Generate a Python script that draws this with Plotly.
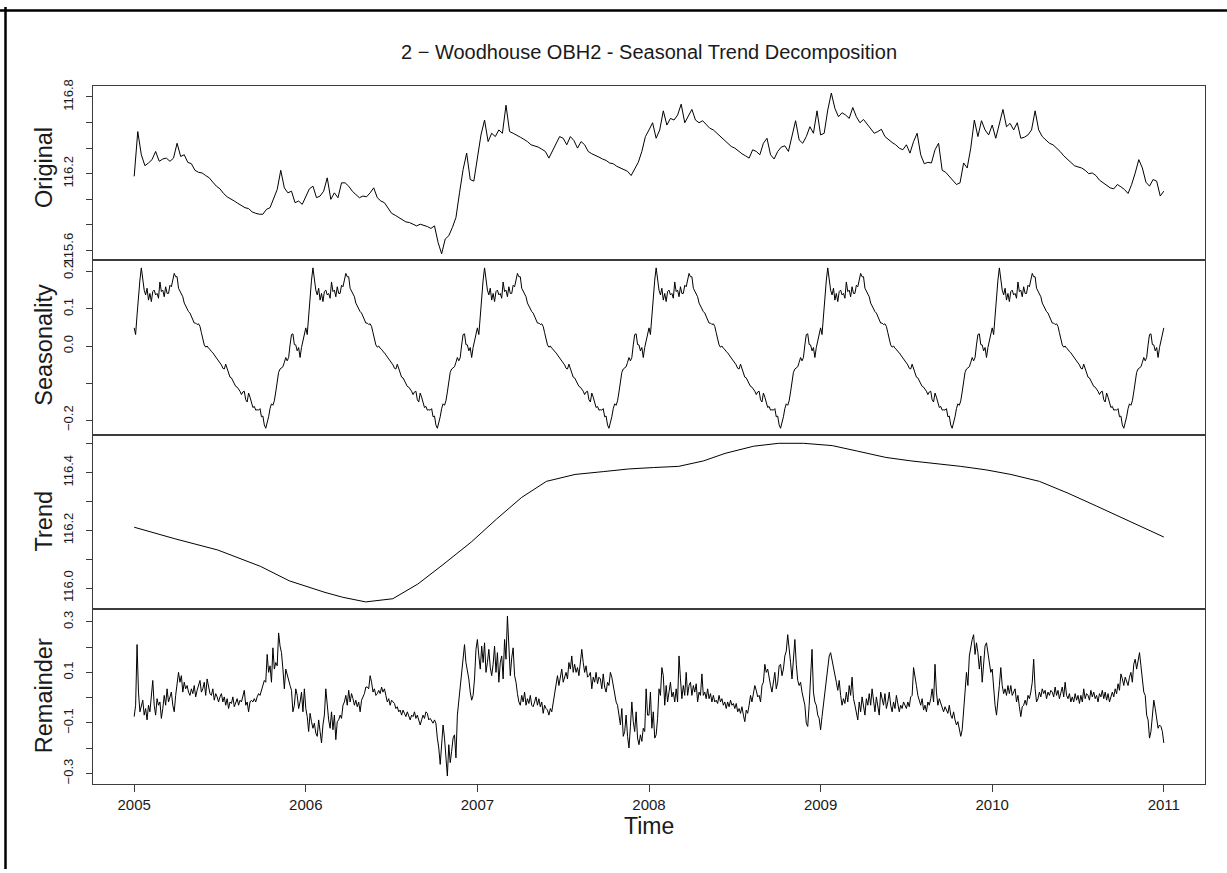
import numpy as np
import plotly.graph_objects as go

# ---------------------------------------------------------------------------
# Woodhouse OBH2 water level (m), STL decomposition 2005-2011
# ---------------------------------------------------------------------------
START_YEAR, END_YEAR = 2005.0, 2011.0

# observed level, regular sampling over the record
original = [
    116.180, 116.529, 116.348, 116.263, 116.284, 116.310, 116.374, 116.297, 116.315, 116.322,
    116.297, 116.322, 116.438, 116.335, 116.348, 116.289, 116.278, 116.227, 116.211, 116.206,
    116.186, 116.168, 116.134, 116.103, 116.082, 116.046, 116.020, 116.000, 115.987, 115.969,
    115.953, 115.935, 115.928, 115.902, 115.891, 115.884, 115.884, 115.922, 115.935, 116.000,
    116.077, 116.227, 116.090, 116.051, 116.064, 115.974, 115.987, 115.961, 116.026, 116.082,
    116.103, 116.013, 116.026, 116.064, 116.168, 116.000, 116.051, 116.013, 116.129, 116.129,
    116.103, 116.064, 116.038, 116.013, 116.026, 116.020, 116.051, 116.090, 116.013, 115.987,
    115.974, 115.928, 115.891, 115.876, 115.858, 115.845, 115.824, 115.819, 115.806, 115.793,
    115.806, 115.798, 115.788, 115.773, 115.793, 115.664, 115.575, 115.690, 115.716, 115.780,
    115.858, 116.051, 116.232, 116.361, 116.155, 116.142, 116.335, 116.503, 116.619, 116.451,
    116.516, 116.490, 116.542, 116.516, 116.735, 116.529, 116.516, 116.503, 116.485, 116.469,
    116.451, 116.426, 116.418, 116.408, 116.392, 116.374, 116.322, 116.374, 116.426, 116.490,
    116.477, 116.426, 116.490, 116.459, 116.400, 116.451, 116.426, 116.374, 116.356, 116.340,
    116.330, 116.315, 116.304, 116.284, 116.278, 116.258, 116.245, 116.227, 116.219, 116.186,
    116.232, 116.289, 116.374, 116.490, 116.542, 116.598, 116.477, 116.542, 116.691, 116.580,
    116.632, 116.619, 116.658, 116.743, 116.598, 116.645, 116.702, 116.619, 116.598, 116.614,
    116.580, 116.555, 116.542, 116.516, 116.490, 116.459, 116.433, 116.413, 116.400, 116.374,
    116.356, 116.340, 116.322, 116.387, 116.374, 116.348, 116.438, 116.477, 116.348, 116.315,
    116.374, 116.408, 116.418, 116.374, 116.490, 116.614, 116.464, 116.438, 116.490, 116.567,
    116.516, 116.691, 116.503, 116.516, 116.697, 116.830, 116.710, 116.645, 116.676, 116.658,
    116.632, 116.717, 116.645, 116.598, 116.624, 116.588, 116.555, 116.516, 116.529, 116.547,
    116.490, 116.464, 116.444, 116.426, 116.400, 116.387, 116.426, 116.361, 116.451, 116.516,
    116.348, 116.278, 116.289, 116.284, 116.387, 116.438, 116.227, 116.211, 116.180, 116.155,
    116.116, 116.129, 116.284, 116.245, 116.400, 116.619, 116.490, 116.614, 116.542, 116.503,
    116.580, 116.477, 116.593, 116.702, 116.567, 116.593, 116.542, 116.598, 116.477, 116.485,
    116.503, 116.542, 116.691, 116.542, 116.490, 116.464, 116.438, 116.426, 116.400, 116.374,
    116.340, 116.315, 116.289, 116.263, 116.253, 116.245, 116.227, 116.201, 116.206, 116.186,
    116.150, 116.129, 116.108, 116.090, 116.082, 116.116, 116.098, 116.077, 116.046, 116.116,
    116.206, 116.310, 116.245, 116.134, 116.103, 116.155, 116.142, 116.026, 116.064,
]

# one cycle of the periodic seasonal component (starts 1 January)
seasonal_cycle = [
    0.049, 0.031, 0.084, 0.138, 0.178, 0.211, 0.173, 0.151, 0.138, 0.156,
    0.124, 0.142, 0.120, 0.147, 0.151, 0.138, 0.142, 0.129, 0.173, 0.147,
    0.151, 0.133, 0.160, 0.142, 0.142, 0.164, 0.160, 0.178, 0.196, 0.187,
    0.187, 0.156, 0.147, 0.138, 0.133, 0.116, 0.107, 0.102, 0.093, 0.089,
    0.080, 0.071, 0.062, 0.062, 0.058, 0.060, 0.053, 0.036, 0.018, 0.003,
    -0.003, 0.000, -0.006, -0.009, -0.015, -0.018, -0.024, -0.029, -0.036, -0.038,
    -0.044, -0.051, -0.060, -0.062, -0.049, -0.062, -0.074, -0.084, -0.086, -0.095,
    -0.100, -0.109, -0.111, -0.116, -0.122, -0.131, -0.124, -0.122, -0.145, -0.151,
    -0.127, -0.138, -0.156, -0.166, -0.163, -0.173, -0.172, -0.173, -0.169, -0.191,
    -0.189, -0.213, -0.222, -0.209, -0.191, -0.169, -0.156, -0.160, -0.148, -0.124,
    -0.100, -0.071, -0.062, -0.058, -0.056, -0.044, -0.031, -0.040, -0.031, 0.003,
    0.031, 0.033, 0.004, 0.003, -0.013, -0.004, -0.031, -0.004, 0.013, 0.031,
]

# smooth trend component at its knots
trend_time = [
    2005.000, 2005.237, 2005.487, 2005.737, 2005.904, 2006.112, 2006.216, 2006.349,
    2006.507, 2006.653, 2006.799, 2006.965, 2007.111, 2007.257, 2007.402, 2007.569,
    2007.736, 2007.881, 2008.027, 2008.173, 2008.318, 2008.443, 2008.610, 2008.756,
    2008.901, 2009.068, 2009.214, 2009.380, 2009.526, 2009.672, 2009.817, 2009.963,
    2010.109, 2010.275, 2010.442, 2010.609, 2010.775, 2010.942, 2011.000,
]
trend = [
    116.211, 116.171, 116.132, 116.075, 116.025, 115.985, 115.968, 115.952,
    115.963, 116.014, 116.081, 116.160, 116.239, 116.314, 116.370, 116.394,
    116.404, 116.413, 116.418, 116.422, 116.441, 116.467, 116.492, 116.502,
    116.502, 116.494, 116.475, 116.453, 116.441, 116.432, 116.422, 116.410,
    116.394, 116.370, 116.329, 116.284, 116.239, 116.194, 116.177,
]

# remainder, regular sampling over the record
remainder = [
    -0.075, -0.030, 0.210, 0.022, -0.056, -0.030, -0.010, -0.069, -0.043, -0.088,
    -0.030, -0.056, -0.004, 0.068, -0.030, -0.069, -0.004, -0.030, -0.017, -0.082,
    -0.043, 0.009, -0.030, 0.035, -0.017, 0.009, 0.022, -0.030, -0.056, 0.009,
    0.048, 0.100, 0.061, 0.087, 0.022, 0.061, 0.035, 0.048, 0.022, 0.009,
    0.035, 0.016, 0.048, 0.003, 0.029, 0.048, 0.068, 0.022, 0.035, 0.061,
    0.009, 0.074, 0.042, 0.016, 0.009, 0.035, -0.010, 0.016, 0.003, -0.017,
    0.003, 0.016, -0.017, 0.003, -0.030, -0.004, -0.043, -0.017, -0.023, 0.003,
    -0.036, -0.017, -0.004, -0.030, -0.010, -0.017, 0.003, 0.029, -0.030, -0.017,
    -0.056, -0.017, -0.010, -0.017, -0.004, -0.017, 0.003, 0.016, 0.009, 0.029,
    0.048, 0.068, 0.061, 0.171, 0.100, 0.126, 0.061, 0.197, 0.113, 0.139,
    0.126, 0.256, 0.204, 0.178, 0.113, 0.035, 0.113, 0.087, 0.061, 0.048,
    0.029, -0.056, -0.030, 0.035, 0.009, -0.043, -0.017, 0.022, -0.056, 0.035,
    -0.043, -0.075, -0.134, -0.062, -0.095, -0.121, -0.101, -0.140, -0.153, -0.088,
    -0.134, -0.179, -0.108, -0.069, 0.035, -0.030, -0.088, -0.121, -0.056, -0.127,
    -0.069, -0.166, -0.095, -0.088, -0.069, -0.082, -0.030, -0.017, 0.009, -0.030,
    0.029, -0.017, 0.016, -0.004, -0.030, -0.010, -0.036, -0.017, -0.056, -0.010,
    0.003, 0.016, 0.042, 0.042, 0.035, 0.087, 0.061, 0.022, 0.035, 0.009,
    0.016, 0.029, 0.016, 0.042, 0.022, 0.035, 0.009, -0.017, -0.004, -0.030,
    -0.010, -0.017, -0.023, -0.043, -0.036, -0.056, -0.049, -0.069, -0.049, -0.062,
    -0.075, -0.056, -0.069, -0.088, -0.069, -0.075, -0.056, -0.082, -0.069, -0.095,
    -0.108, -0.088, -0.069, -0.082, -0.056, -0.062, -0.088, -0.082, -0.095, -0.101,
    -0.088, -0.101, -0.160, -0.199, -0.264, -0.186, -0.108, -0.160, -0.251, -0.310,
    -0.186, -0.257, -0.212, -0.160, -0.147, -0.238, -0.069, -0.017, 0.048, 0.100,
    0.152, 0.210, 0.139, 0.113, 0.074, 0.022, -0.010, 0.009, 0.074, 0.191,
    0.230, 0.165, 0.113, 0.204, 0.139, 0.217, 0.100, 0.139, 0.191, 0.119,
    0.087, 0.132, 0.204, 0.100, 0.178, 0.061, 0.139, 0.165, 0.074, 0.230,
    0.152, 0.323, 0.191, 0.087, 0.158, 0.197, 0.087, 0.061, 0.016, -0.017,
    -0.030, 0.009, -0.017, 0.022, -0.030, -0.004, -0.023, 0.009, -0.030, -0.036,
    -0.017, 0.003, -0.030, -0.004, -0.036, -0.017, -0.062, -0.030, -0.043, -0.049,
    -0.069, -0.043, -0.056, -0.017, 0.022, 0.061, 0.087, 0.048, 0.074, 0.113,
    0.061, 0.087, 0.100, 0.074, 0.139, 0.113, 0.165, 0.100, 0.132, 0.100,
    0.119, 0.087, 0.132, 0.191, 0.139, 0.100, 0.126, 0.081, 0.087, 0.100,
    0.035, 0.081, 0.061, 0.100, 0.055, 0.081, 0.074, 0.035, 0.094, 0.042,
    0.022, 0.061, 0.048, 0.100, 0.081, 0.048, 0.003, -0.017, -0.030, -0.069,
    -0.108, -0.043, -0.153, -0.134, -0.069, -0.153, -0.199, -0.114, -0.017, -0.095,
    -0.134, -0.056, -0.160, -0.186, -0.147, -0.173, -0.121, -0.134, 0.035, -0.069,
    -0.069, 0.022, -0.121, -0.056, -0.160, -0.147, -0.082, 0.035, 0.009, 0.119,
    0.087, -0.030, 0.048, -0.017, 0.022, 0.061, 0.003, 0.022, -0.017, 0.035,
    -0.017, 0.165, 0.074, -0.004, 0.048, 0.009, 0.100, 0.009, 0.048, 0.061,
    0.009, 0.048, 0.022, 0.055, -0.017, 0.022, 0.009, 0.094, 0.009, 0.022,
    -0.004, 0.035, -0.004, 0.016, -0.017, 0.009, -0.017, -0.010, -0.023, 0.009,
    -0.017, -0.004, -0.030, -0.017, -0.043, -0.017, -0.036, -0.010, -0.030, -0.023,
    -0.043, -0.023, -0.056, -0.043, -0.062, -0.036, -0.069, -0.095, -0.049, -0.062,
    -0.030, 0.009, -0.017, 0.022, 0.048, 0.029, 0.003, 0.009, -0.017, 0.048,
    0.061, 0.132, 0.100, 0.113, 0.074, 0.048, 0.022, 0.068, 0.100, 0.035,
    0.061, 0.126, 0.132, 0.087, 0.113, 0.165, 0.184, 0.249, 0.204, 0.139,
    0.074, 0.152, 0.230, 0.132, 0.068, 0.048, 0.061, 0.022, -0.004, -0.030,
    -0.101, -0.114, -0.030, 0.074, 0.191, 0.022, -0.017, -0.030, -0.069, -0.082,
    -0.127, -0.075, -0.030, 0.022, 0.074, 0.126, 0.165, 0.178, 0.152, 0.126,
    0.087, 0.061, 0.029, 0.068, 0.009, -0.030, -0.004, -0.023, 0.022, -0.017,
    0.048, 0.009, 0.081, -0.004, -0.030, -0.056, -0.088, -0.017, -0.056, 0.003,
    -0.030, -0.069, -0.004, -0.030, 0.016, -0.030, 0.035, -0.017, -0.056, 0.003,
    -0.030, -0.069, 0.022, -0.010, -0.030, 0.016, -0.043, -0.017, 0.022, -0.030,
    -0.056, -0.017, -0.043, 0.009, -0.030, -0.056, -0.030, -0.043, -0.017, -0.030,
    -0.043, -0.017, -0.036, 0.003, 0.009, 0.119, 0.074, 0.048, 0.009, -0.017,
    -0.030, -0.004, -0.049, -0.030, -0.056, -0.017, -0.030, -0.004, 0.035, -0.017,
    0.132, 0.022, -0.030, -0.004, -0.023, -0.043, -0.056, -0.036, -0.049, -0.062,
    -0.030, -0.069, -0.082, -0.056, -0.088, -0.108, -0.095, -0.127, -0.153, -0.127,
    -0.030, 0.022, 0.100, 0.048, 0.165, 0.204, 0.230, 0.249, 0.171, 0.217,
    0.178, 0.113, 0.165, 0.061, 0.152, 0.204, 0.217, 0.178, 0.139, 0.100,
    0.113, 0.035, -0.030, -0.069, 0.009, 0.048, 0.119, 0.048, 0.016, 0.035,
    0.009, 0.048, 0.016, 0.048, 0.009, 0.022, 0.035, -0.017, 0.009, -0.036,
    -0.075, -0.036, -0.030, -0.010, -0.030, 0.009, -0.004, 0.022, 0.061, 0.152,
    0.035, -0.017, -0.004, 0.022, 0.003, 0.035, 0.016, 0.029, -0.004, 0.022,
    0.009, 0.029, 0.022, 0.003, 0.042, 0.009, 0.029, -0.004, 0.022, 0.042,
    0.003, 0.061, 0.009, -0.004, 0.016, -0.017, 0.003, -0.017, 0.016, -0.010,
    0.009, -0.023, 0.009, -0.017, 0.035, -0.004, 0.016, 0.009, -0.010, 0.029,
    0.003, 0.022, -0.004, 0.009, -0.017, 0.016, 0.003, 0.029, -0.004, 0.022,
    -0.010, 0.016, -0.017, 0.009, 0.022, 0.003, 0.035, 0.016, 0.055, 0.029,
    0.094, 0.074, 0.048, 0.081, 0.068, 0.048, 0.081, 0.100, 0.061, 0.132,
    0.152, 0.113, 0.145, 0.178, 0.126, 0.068, 0.022, 0.009, -0.069, -0.088,
    -0.160, -0.134, -0.056, -0.010, -0.043, -0.082, -0.121, -0.108, -0.114, -0.134,
    -0.179,
]

year_ticks = [2005, 2006, 2007, 2008, 2009, 2010, 2011]

# ---------------------------------------------------------------------------
# series assembly
# ---------------------------------------------------------------------------
n_years = int(round(END_YEAR - START_YEAR))
original_time = np.linspace(START_YEAR, END_YEAR, len(original))
seasonal = np.concatenate([np.tile(seasonal_cycle, n_years), seasonal_cycle[:1]])
seasonal_time = np.linspace(START_YEAR, END_YEAR, len(seasonal))
remainder_time = np.linspace(START_YEAR, END_YEAR, len(remainder))

# ---------------------------------------------------------------------------
# page geometry (pixels)
# ---------------------------------------------------------------------------
W, H = 1227, 873
LEFT, RIGHT = 93, 1205
PANEL_TOP, PANEL_H = 80, 176.7
FONT = "Liberation Sans, Arial, Helvetica, sans-serif"
INK = "#1a1a1a"
FRAME = "#3c3c3c"


def px(x):
    return x / W


def py(y):
    return 1 - y / H


def label(v):
    return f"{v:.1f}".replace("-", "\u2212")


panels = [
    dict(name="Original", x=original_time, y=original, rng=[115.523, 116.885],
         ticks=[115.6, 115.8, 116.0, 116.2, 116.4, 116.6, 116.8],
         shown={115.6, 116.2, 116.8}, title_y=163),
    dict(name="Seasonality", x=seasonal_time, y=seasonal, rng=[-0.240, 0.231],
         ticks=[-0.2, -0.1, 0.0, 0.1, 0.2],
         shown={-0.2, 0.0, 0.1, 0.2}, title_y=342),
    dict(name="Trend", x=trend_time, y=trend, rng=[115.926, 116.531],
         ticks=[116.0, 116.1, 116.2, 116.3, 116.4, 116.5],
         shown={116.0, 116.2, 116.4}, title_y=521),
    dict(name="Remainder", x=remainder_time, y=remainder, rng=[-0.341, 0.349],
         ticks=[-0.3, -0.2, -0.1, 0.0, 0.1, 0.2, 0.3],
         shown={-0.3, -0.1, 0.1, 0.3}, title_y=698),
]

fig = go.Figure()
layout = dict(
    width=W, height=H,
    margin=dict(l=0, r=0, t=0, b=0),
    paper_bgcolor="white", plot_bgcolor="white",
    showlegend=False,
    font=dict(family=FONT, color=INK),
)
annotations = []

span = END_YEAR - START_YEAR
x_range = [START_YEAR - 0.04 * span, END_YEAR + 0.04 * span]

for i, p in enumerate(panels, start=1):
    top = PANEL_TOP + (i - 1) * PANEL_H
    bottom = top + PANEL_H
    xa, ya = ("x", "y") if i == 1 else (f"x{i}", f"y{i}")
    fig.add_trace(go.Scatter(
        x=p["x"], y=p["y"], mode="lines",
        line=dict(color="black", width=1),
        xaxis=xa, yaxis=ya, hoverinfo="skip",
    ))
    last = i == len(panels)
    layout["xaxis" if i == 1 else f"xaxis{i}"] = dict(
        domain=[px(LEFT), px(RIGHT)], anchor=ya, range=x_range,
        showline=True, mirror=True, linecolor=FRAME, linewidth=1,
        showgrid=False, zeroline=False,
        tickmode="array", tickvals=year_ticks if last else [],
        ticktext=[str(t) for t in year_ticks] if last else [],
        ticks="outside" if last else "", ticklen=7, tickcolor=FRAME,
        showticklabels=last,
        tickfont=dict(size=15, color=INK, family=FONT),
    )
    shown = {round(s, 2) for s in p["shown"]}
    layout["yaxis" if i == 1 else f"yaxis{i}"] = dict(
        domain=[py(bottom), py(top)], anchor=xa, range=p["rng"],
        showline=True, mirror=True, linecolor=FRAME, linewidth=1,
        showgrid=False, zeroline=False,
        tickmode="array", tickvals=p["ticks"],
        ticktext=[label(t) if round(t, 2) in shown else "" for t in p["ticks"]],
        ticks="outside", ticklen=6, tickcolor=FRAME,
        tickangle=-90, ticklabelstandoff=8,
        tickfont=dict(size=13, color=INK, family=FONT),
    )
    annotations.append(dict(
        text=p["name"], x=px(44), y=py(p["title_y"]),
        xref="paper", yref="paper", xanchor="center", yanchor="middle",
        textangle=-90, showarrow=False,
        font=dict(size=23.5, color=INK, family=FONT),
    ))

annotations.append(dict(
    text="2 \u2212 Woodhouse OBH2 - Seasonal Trend Decomposition",
    x=px((LEFT + RIGHT) / 2), y=py(46), xref="paper", yref="paper",
    xanchor="center", yanchor="middle", showarrow=False,
    font=dict(size=20, color=INK, family=FONT),
))
annotations.append(dict(
    text="Time", x=px((LEFT + RIGHT) / 2), y=py(829), xref="paper", yref="paper",
    xanchor="center", yanchor="middle", showarrow=False,
    font=dict(size=23, color=INK, family=FONT),
))

layout["annotations"] = annotations
# outer frame lines along the top and left edges of the page
layout["shapes"] = [
    dict(type="line", xref="paper", yref="paper", x0=0, x1=1, y0=py(3.5), y1=py(3.5),
         line=dict(color="black", width=2.5)),
    dict(type="line", xref="paper", yref="paper", x0=px(5.5), x1=px(5.5), y0=0, y1=1,
         line=dict(color="black", width=2.5)),
]

fig.update_layout(**layout)
fig.write_html("out.html")
